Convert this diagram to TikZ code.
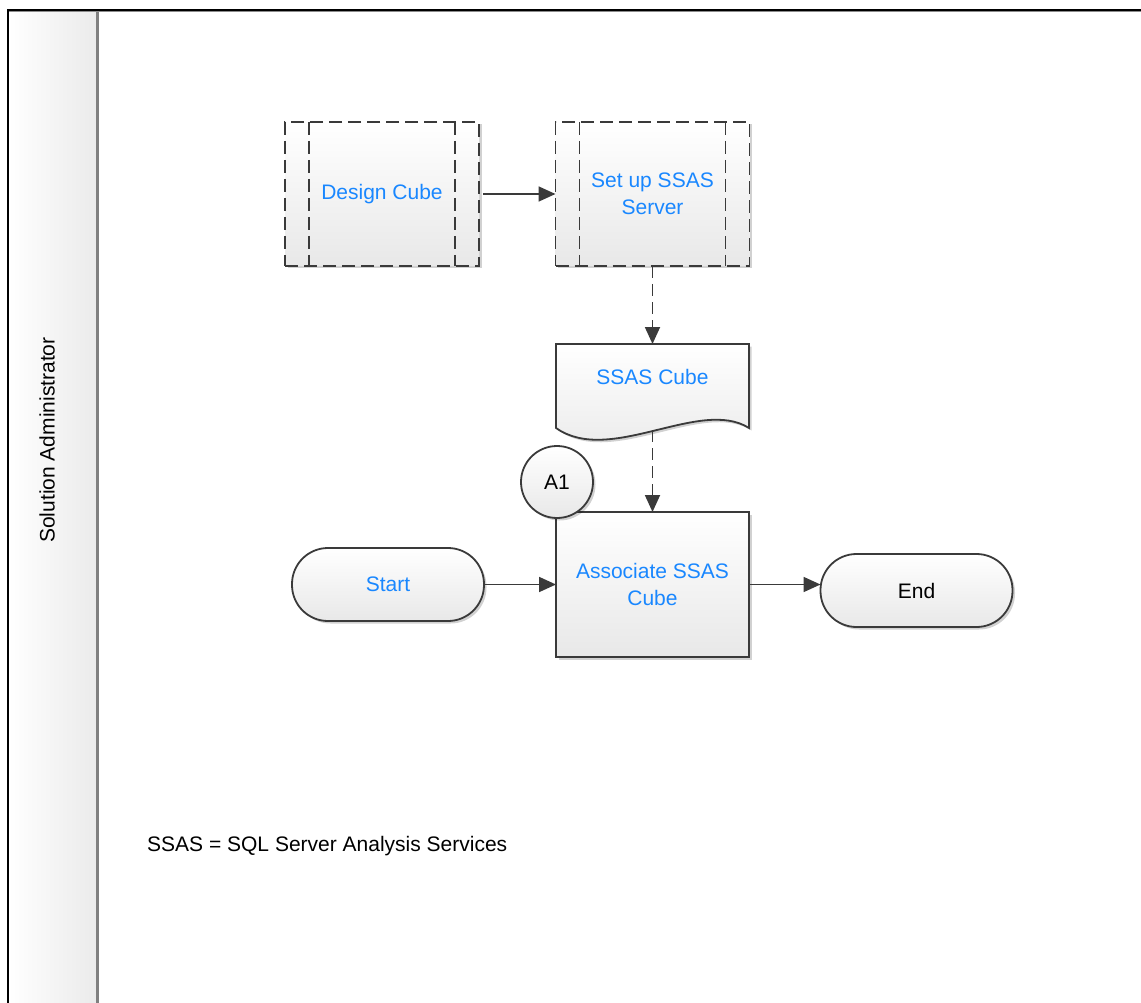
\documentclass[tikz,border=0pt]{standalone}
\usepackage{fontspec}
\setmainfont{Liberation Sans}
\usetikzlibrary{arrows.meta,shadows,calc}
\definecolor{txtblue}{RGB}{25,135,255}
\definecolor{ln}{RGB}{58,58,58}
\begin{document}
\begin{tikzpicture}[x=1pt,y=-1pt,
  font=\fontsize{21}{27}\selectfont,
  base/.style={draw=ln, line width=1.8pt, top color=white, bottom color=black!9,
    drop shadow={shadow xshift=2.5pt, shadow yshift=-2.5pt, opacity=0.18, fill=black},
    align=center, inner sep=0pt, outer sep=0pt, text=txtblue},
  subproc/.style={base, dash pattern=on 13pt off 6pt, minimum width=194pt, minimum height=144pt},
  proc/.style={base, minimum width=193pt, minimum height=145pt},
  term/.style={base, rounded corners=36pt, minimum width=192pt, minimum height=73pt},
  conn/.style={base, circle, minimum size=72pt, text=black},
  innerdash/.style={draw=ln, line width=1.8pt, dash pattern=on 13pt off 6pt},
  arr/.style={draw=ln, line width=1.8pt, -{Triangle[length=17pt,width=15pt]}},
  darr/.style={arr, dash pattern=on 12pt off 6pt},
  plain/.style={inner sep=0pt, text=black}
]
\useasboundingbox (0,0) rectangle (1141,1003);
% pool / lane
\fill[left color=white, right color=black!8] (8,10) rectangle (97,1003);
\draw[black!50, line width=2.5pt] (97.5,10) -- (97.5,1003);
\draw[black!45, line width=1pt] (9,11.5) -- (1141,11.5);
\draw[black, line width=2pt] (8,1003) -- (8,10) -- (1141,10);
\node[plain, rotate=90] (lane) at (47,440) {Solution Administrator};

% subprocesses
\node[subproc] (dc) at (382,194) {Design Cube};
\draw[innerdash] ([xshift=24pt]dc.north west) -- ([xshift=24pt]dc.south west);
\draw[innerdash] ([xshift=-24pt]dc.north east) -- ([xshift=-24pt]dc.south east);
\node[subproc] (su) at (652.5,194) {Set up SSAS\\Server};
\draw[innerdash] ([xshift=24pt]su.north west) -- ([xshift=24pt]su.south west);
\draw[innerdash] ([xshift=-24pt]su.north east) -- ([xshift=-24pt]su.south east);

% document
\node[inner sep=0pt, outer sep=0pt, minimum width=193pt, minimum height=86pt] (doc) at (652.5,387) {};
\path[base] (556,344) -- (749,344) -- (749,428)
  .. controls (700,397) and (610,466) .. (556,428) -- cycle;
\node[inner sep=0pt, text=txtblue] (doct) at (652.5,377) {SSAS Cube};

% process and terminators
\node[proc] (assoc) at (652.5,584.5) {Associate SSAS\\Cube};
\node[conn] (a1) at (557,482) {A1};
\node[term] (start) at (388,584.5) {Start};
\node[term, text=black] (endn) at (916.5,590.5) {End};

% note
\node[plain, anchor=west] (note) at (147,846) {SSAS = SQL Server Analysis Services};

% connectors
\draw[arr] ([xshift=4pt]dc.east) -- (su.west);
\draw[darr] (su.south) -- (doc.north);
\draw[darr] (doc.south) -- (assoc.north);
\draw[arr] (start.east) -- (assoc.west);
\draw[arr] (assoc.east) -- (assoc.east -| endn.west);
\end{tikzpicture}
\end{document}
